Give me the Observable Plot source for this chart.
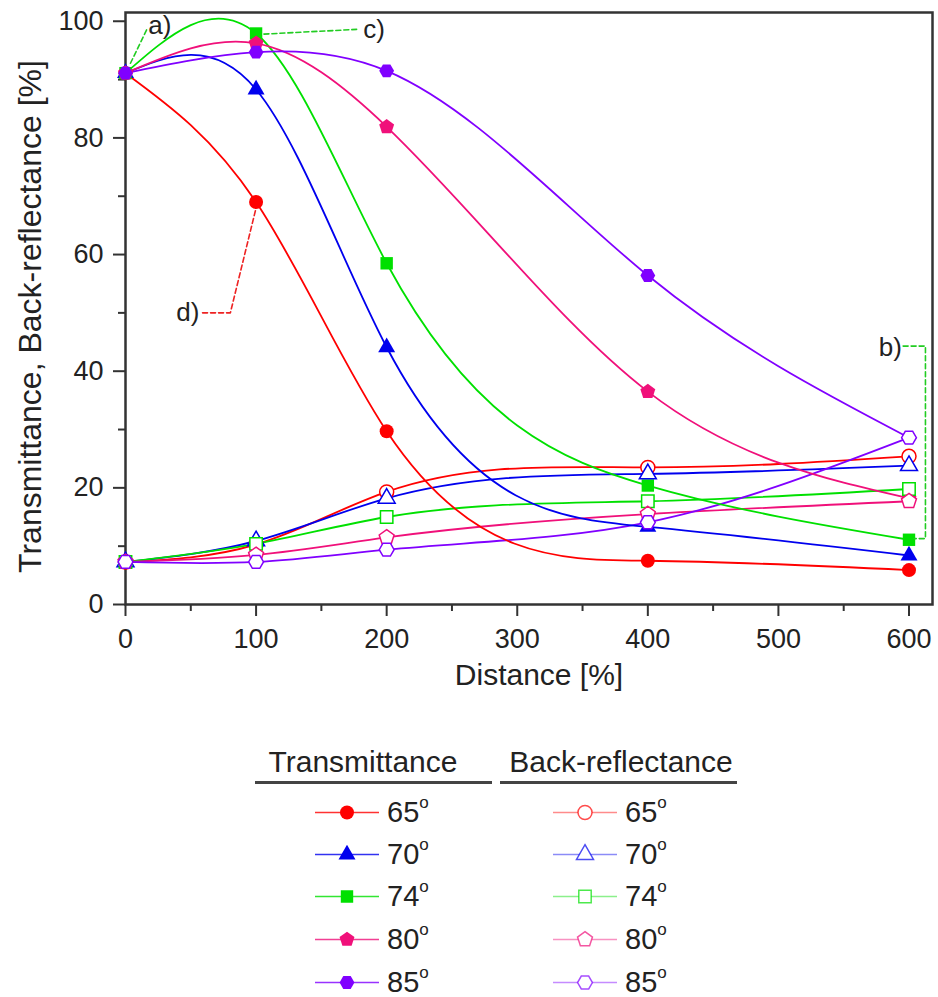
<!DOCTYPE html>
<html><head><meta charset="utf-8">
<script src="https://cdn.jsdelivr.net/npm/d3@7"></script>
<script src="https://cdn.jsdelivr.net/npm/@observablehq/plot@0.6"></script>
<style>
body{margin:0;background:#fff;font-family:"Liberation Sans",Arial,sans-serif;color:#222;}
#chart svg{display:block;}
#legend{position:relative;width:938px;height:272px;}
.lh{position:absolute;font-size:30px;transform:translate(-50%,-50%);white-space:nowrap;}
.ul{position:absolute;height:2.5px;background:#444;}
.lr{position:absolute;display:flex;align-items:center;transform:translateY(-50%);}
.lt{font-size:29px;margin-left:8px;white-space:nowrap;}
.lt sup{font-size:17px;position:relative;top:-3px;}
</style></head><body>
<div id="chart"></div>
<div id="legend"></div>
<script>
// ---- data ----
const distance = [0, 100, 200, 400, 600];
const angles = ["65", "70", "74", "80", "85"];
const colors = ["#ff0000", "#0000ee", "#00e000", "#f0107a", "#8000ff"];
const transmittance65 = [91.1, 69.0, 29.7, 7.5, 5.9];
const transmittance70 = [91.1, 88.3, 44.1, 13.3, 8.4];
const transmittance74 = [91.1, 97.9, 58.5, 20.4, 11.1];
const transmittance80 = [91.1, 96.2, 81.9, 36.5, 18.2];
const transmittance85 = [91.1, 94.7, 91.5, 56.4, 28.6];
const backReflectance65 = [7.3, 10.3, 19.3, 23.5, 25.4];
const backReflectance70 = [7.3, 10.9, 18.2, 22.4, 23.8];
const backReflectance74 = [7.3, 10.4, 15.0, 17.7, 19.8];
const backReflectance80 = [7.3, 8.5, 11.5, 15.5, 17.7];
const backReflectance85 = [7.3, 7.3, 9.4, 14.1, 28.6];
const xTicks = [0, 100, 200, 300, 400, 500, 600];
const xMinorTicks = [50, 150, 250, 350, 450, 550];
const yTicks = [0, 20, 40, 60, 80, 100];
const yMinorTicks = [10, 30, 50, 70, 90];
// annotation leaders (data coordinates)
const leaderA = [{x: 3.8, y: 92.8}, {x: 16.8, y: 98.8}];
const leaderC = [{x: 106, y: 97.8}, {x: 177, y: 98.6}];
const leaderD = [{x: 59, y: 50}, {x: 80.3, y: 50}, {x: 100, y: 68}];
const leaderB = [{x: 595.5, y: 44.3}, {x: 612.6, y: 44.3}, {x: 612.6, y: 11.3}, {x: 604, y: 11.3}];
const annotations = [
  {label: "a)", x: 17.5, y: 99.3, anchor: "start"},
  {label: "c)", x: 182, y: 98.5, anchor: "start"},
  {label: "d)", x: 56.6, y: 50.1, anchor: "end"},
  {label: "b)", x: 594.5, y: 44.1, anchor: "end"}
];

const transSeries = [transmittance65, transmittance70, transmittance74, transmittance80, transmittance85];
const backSeries = [backReflectance65, backReflectance70, backReflectance74, backReflectance80, backReflectance85];

// natural cubic spline with y as a function of x (handles uneven x spacing)
function naturalX(context) {
  let xs, ys;
  return {
    areaStart() {}, areaEnd() {},
    lineStart() { xs = []; ys = []; },
    point(x, y) { xs.push(+x); ys.push(+y); },
    lineEnd() {
      const n = xs.length;
      if (!n) return;
      context.moveTo(xs[0], ys[0]);
      if (n === 1) return;
      if (n === 2) { context.lineTo(xs[1], ys[1]); return; }
      const h = [];
      for (let i = 0; i < n - 1; i++) h.push(xs[i + 1] - xs[i]);
      const a = [], b = [], c = [], d = [];
      for (let i = 1; i < n - 1; i++) {
        a.push(h[i - 1]); b.push(2 * (h[i - 1] + h[i])); c.push(h[i]);
        d.push(6 * ((ys[i + 1] - ys[i]) / h[i] - (ys[i] - ys[i - 1]) / h[i - 1]));
      }
      const m = b.length;
      for (let i = 1; i < m; i++) { const w = a[i] / b[i - 1]; b[i] -= w * c[i - 1]; d[i] -= w * d[i - 1]; }
      const sol = new Array(m);
      sol[m - 1] = d[m - 1] / b[m - 1];
      for (let i = m - 2; i >= 0; i--) sol[i] = (d[i] - c[i] * sol[i + 1]) / b[i];
      const M = [0, ...sol, 0];
      for (let i = 0; i < n - 1; i++) {
        const s = (ys[i + 1] - ys[i]) / h[i];
        const m0 = s - h[i] * (2 * M[i] + M[i + 1]) / 6;
        const m1 = s + h[i] * (M[i] + 2 * M[i + 1]) / 6;
        context.bezierCurveTo(xs[i] + h[i] / 3, ys[i] + m0 * h[i] / 3, xs[i + 1] - h[i] / 3, ys[i + 1] - m1 * h[i] / 3, xs[i + 1], ys[i + 1]);
      }
    }
  };
}

function polygonSymbol(n, rot, k) {
  return {draw(ctx, size) {
    const r = Math.sqrt(size / Math.PI) * k;
    for (let i = 0; i < n; i++) {
      const ang = rot + 2 * Math.PI * i / n;
      const px = r * Math.sin(ang), py = -r * Math.cos(ang);
      if (i) ctx.lineTo(px, py); else ctx.moveTo(px, py);
    }
    ctx.closePath();
  }};
}
const pentagon = polygonSymbol(5, 0, 1.12);
const hexagon = polygonSymbol(6, Math.PI / 6, 1.06);
const symbols = [d3.symbolCircle, d3.symbolTriangle, d3.symbolSquare, pentagon, hexagon];
const symbolR = [7, 6.3, 7, 7, 7];

const toRows = (vals) => distance.map((d, i) => ({x: d, y: vals[i]}));

const font = '"Liberation Sans", Arial, sans-serif';
const H = 725;
const marks = [];
backSeries.forEach((s, i) => marks.push(Plot.line(toRows(s), {x: "x", y: "y", stroke: colors[i], strokeWidth: 1.8, curve: naturalX})));
transSeries.forEach((s, i) => marks.push(Plot.line(toRows(s), {x: "x", y: "y", stroke: colors[i], strokeWidth: 1.8, curve: naturalX})));
transSeries.forEach((s, i) => marks.push(Plot.dot(toRows(s), {x: "x", y: "y", symbol: symbols[i], r: symbolR[i], fill: colors[i], stroke: "none"})));
backSeries.forEach((s, i) => marks.push(Plot.dot(toRows(s), {x: "x", y: "y", symbol: symbols[i], r: symbolR[i], fill: "white", stroke: colors[i], strokeWidth: 1.5})));

const chart = Plot.plot({
  width: 938, height: H,
  marginLeft: 125, marginRight: 6, marginTop: 12, marginBottom: H - 604,
  x: {domain: [0, 618]},
  y: {domain: [0, 101.5]},
  style: {fontFamily: font, color: "#222", background: "white", overflow: "visible"},
  marks: [
    Plot.axisX({ticks: xMinorTicks, tickSize: 7, text: null, label: null, strokeWidth: 2, stroke: "#333"}),
    Plot.axisX({ticks: xTicks, tickSize: 12, tickPadding: 12, fontSize: 27, label: null, strokeWidth: 2, stroke: "#333"}),
    Plot.axisY({ticks: yMinorTicks, tickSize: 7, text: null, label: null, strokeWidth: 2, stroke: "#333"}),
    Plot.axisY({ticks: yTicks, tickSize: 12, tickPadding: 10, fontSize: 27, label: null, strokeWidth: 2, stroke: "#333"}),
    Plot.frame({stroke: "#333", strokeWidth: 2.5}),
    ...marks,
    Plot.line(leaderA, {x: "x", y: "y", stroke: "#22cc22", strokeWidth: 1.6, strokeDasharray: "5,3"}),
    Plot.line(leaderC, {x: "x", y: "y", stroke: "#22cc22", strokeWidth: 1.6, strokeDasharray: "5,3"}),
    Plot.line(leaderB, {x: "x", y: "y", stroke: "#22cc22", strokeWidth: 1.6, strokeDasharray: "5,3"}),
    Plot.line(leaderD, {x: "x", y: "y", stroke: "#ee2222", strokeWidth: 1.6, strokeDasharray: "5,3"}),
    Plot.text(annotations.filter(d => d.anchor === "start"), {x: "x", y: "y", text: "label", textAnchor: "start", fontSize: 26, fill: "#222"}),
    Plot.text(annotations.filter(d => d.anchor === "end"), {x: "x", y: "y", text: "label", textAnchor: "end", fontSize: 26, fill: "#222"}),
    Plot.text(["Distance [%]"], {frameAnchor: "bottom", dy: 80, dx: 10, fontSize: 30, fill: "#222"}),
    Plot.text(["Transmittance, Back-reflectance [%]"], {frameAnchor: "left", textAnchor: "middle", rotate: -90, dx: -95, dy: 8, fontSize: 32, fill: "#222"})
  ]
});
document.getElementById("chart").append(chart);

// ---- legend (HTML below the SVG) ----
const legend = d3.select("#legend");
const cols = [
  {title: "Transmittance", center: 363, l: 255, r: 492, iconX: 315, series: "filled"},
  {title: "Back-reflectance", center: 621, l: 500, r: 737, iconX: 553, series: "hollow"}
];
const rowY = [87, 129, 171, 214, 257];
cols.forEach(c => {
  legend.append("div").attr("class", "lh").style("left", c.center + "px").style("top", "37px").text(c.title);
  legend.append("div").attr("class", "ul").style("left", c.l + "px").style("width", (c.r - c.l) + "px").style("top", "56px");
  angles.forEach((a, i) => {
    const row = legend.append("div").attr("class", "lr").style("left", c.iconX + "px").style("top", rowY[i] + "px");
    const svg = row.append("svg").attr("width", 64).attr("height", 24);
    svg.append("line").attr("x1", 0).attr("x2", 64).attr("y1", 12).attr("y2", 12)
      .attr("stroke", colors[i]).attr("stroke-width", 1.4).attr("opacity", c.series === "filled" ? 0.8 : 0.45);
    const size = Math.PI * symbolR[i] * symbolR[i];
    svg.append("path").attr("transform", "translate(32,12)").attr("d", d3.symbol(symbols[i], size)())
      .attr("fill", c.series === "filled" ? colors[i] : "white")
      .attr("stroke", c.series === "filled" ? "none" : colors[i])
      .attr("stroke-opacity", 0.7).attr("stroke-width", 1.5);
    row.append("span").attr("class", "lt").html(a + "<sup>o</sup>");
  });
});
</script>
</body></html>
